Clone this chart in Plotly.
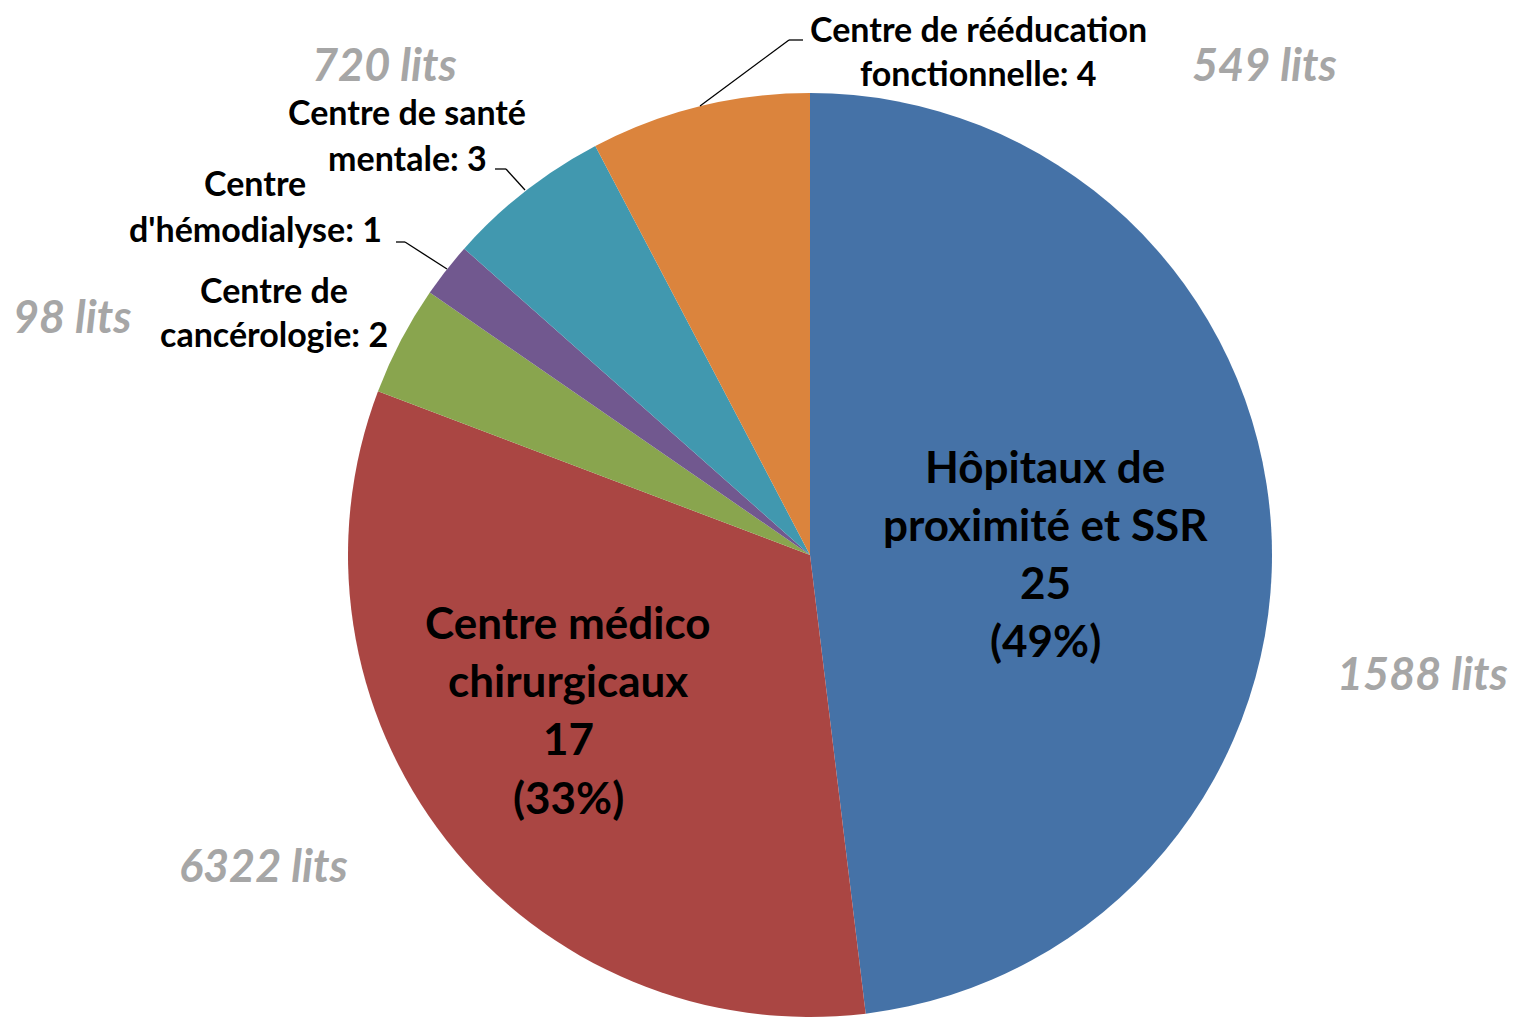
import plotly.graph_objects as go

# Data
categories = ["Hôpitaux de proximité et SSR", "Centre médico chirurgicaux",
              "Centre de cancérologie", "Centre d'hémodialyse",
              "Centre de santé mentale", "Centre de rééducation fonctionnelle"]
counts = [25, 17, 2, 1, 3, 4]
colors = ["#4572A7", "#AA4643", "#89A54E", "#71588F", "#4198AF", "#DB843D"]
beds_labels = ["1588 lits", "6322 lits", "98 lits", "720 lits", "549 lits"]

W, H = 1519, 1017
FONT = "Lato"

def px(x, y):
    return x / W, 1 - y / H

fig = go.Figure()
fig.add_trace(go.Pie(
    labels=categories, values=counts, sort=False, direction="clockwise",
    rotation=0, marker=dict(colors=colors, line=dict(width=0)),
    textinfo="none", hoverinfo="label+value", showlegend=False,
    domain=dict(x=[348 / W, 1272 / W], y=[0, 924 / H]),
))

annotations = []

def add_lines(lines, cx, ys, size, color="black", italic=False):
    for t, y in zip(lines, ys):
        x0, y0 = px(cx, y)
        txt = f"<b><i>{t}</i></b>" if italic else f"<b>{t}</b>"
        annotations.append(dict(x=x0, y=y0, xref="paper", yref="paper", text=txt,
                                showarrow=False, xanchor="center", yanchor="middle",
                                font=dict(family=FONT, size=size, color=color)))

# big inside labels
add_lines(["Hôpitaux de", "proximité et SSR", f"{counts[0]}", "(49%)"], 1045, [466, 524, 582, 640], 44)
add_lines(["Centre médico", "chirurgicaux", f"{counts[1]}", "(33%)"], 568, [622, 680, 738, 797], 44)

# small outside labels
add_lines(["Centre de rééducation", f"fonctionnelle: {counts[5]}"], 978, [28, 72], 34)
add_lines(["Centre de santé", f"mentale: {counts[4]}"], 407, [112, 157], 34)
add_lines(["Centre", f"d'hémodialyse: {counts[3]}"], 255, [183, 228], 34)
add_lines(["Centre de", f"cancérologie: {counts[2]}"], 274, [289, 333], 34)

# beds labels
grey = "#A6A6A6"
bed_pos = [(1422, 673), (263, 865), (72, 316), (384, 64), (1264, 64)]
for t, (bx, by) in zip(beds_labels, bed_pos):
    add_lines([t], bx, [by], 45, color=grey, italic=True)

# leader lines
leaders = [
    [(700, 106), (789, 40), (803, 40)],
    [(525, 190), (506, 169), (495, 169)],
    [(447, 269), (405, 242), (396, 242)],
]
shapes = []
for pts in leaders:
    for (xa, ya), (xb, yb) in zip(pts[:-1], pts[1:]):
        a = px(xa, ya); b = px(xb, yb)
        shapes.append(dict(type="line", xref="paper", yref="paper",
                           x0=a[0], y0=a[1], x1=b[0], y1=b[1],
                           line=dict(color="black", width=1.3)))

fig.update_layout(
    width=W, height=H, margin=dict(l=0, r=0, t=0, b=0),
    paper_bgcolor="white", plot_bgcolor="white",
    annotations=annotations, shapes=shapes,
)
fig.write_html("out.html", config={"displayModeBar": False},
               post_script="document.body.style.margin='0';document.body.style.overflow='hidden';")
